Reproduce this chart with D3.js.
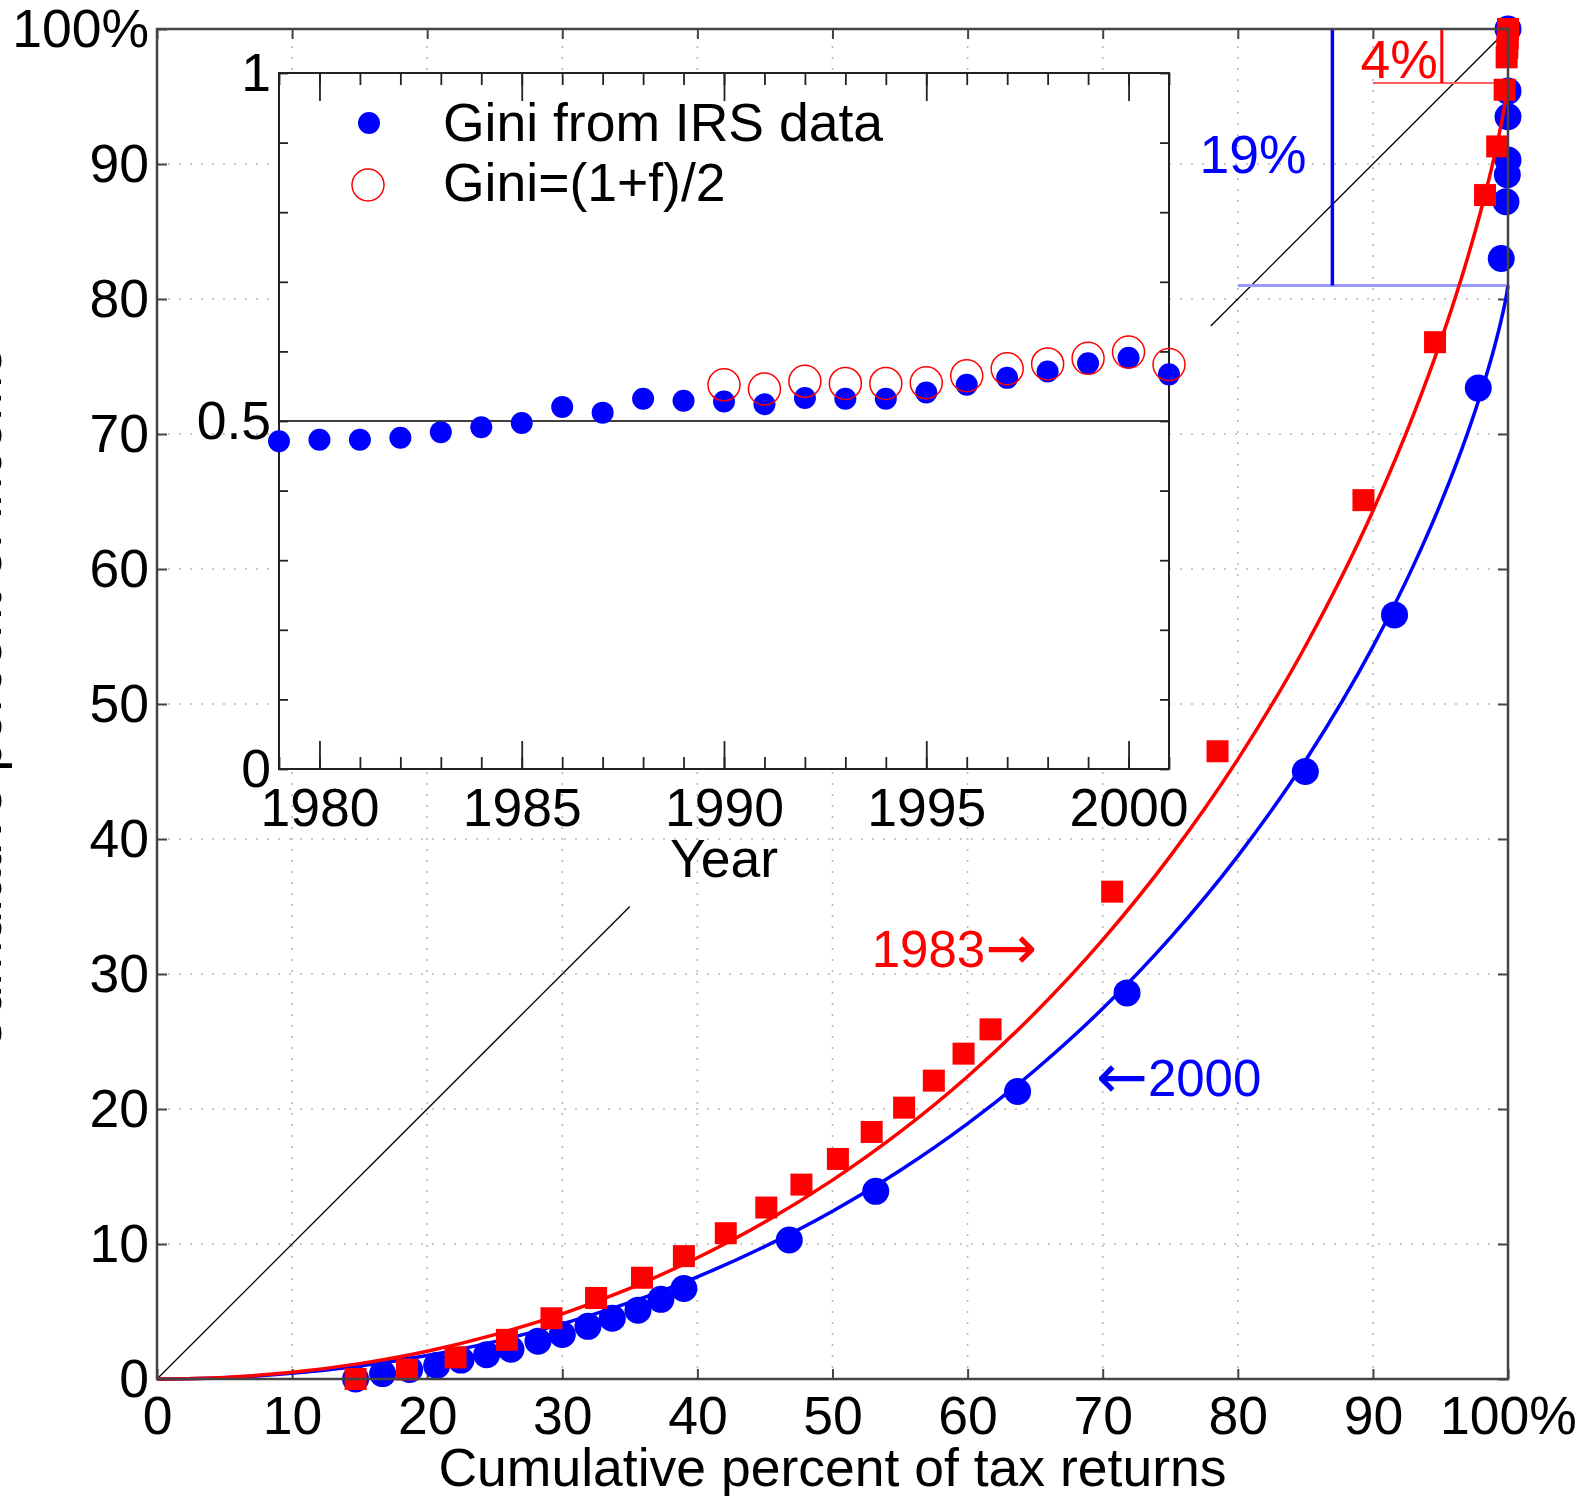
<!DOCTYPE html>
<html>
<head>
<meta charset="utf-8">
<script src="https://cdn.jsdelivr.net/npm/d3@7"></script>
<style>
  body { margin: 0; background: #fff; }
  svg { display: block; font-family: "Liberation Sans", Arial, sans-serif; }
</style>
</head>
<body>
<svg id="chart" width="1577" height="1496"></svg>
<script>
// ---- main plot: Lorenz curves (percent) ----
const xTicks = [0, 10, 20, 30, 40, 50, 60, 70, 80, 90, 100];
const xTickLabels = ["0", "10", "20", "30", "40", "50", "60", "70", "80", "90", "100%"];
const yTicks = [0, 10, 20, 30, 40, 50, 60, 70, 80, 90, 100];
const yTickLabels = ["0", "10", "20", "30", "40", "50", "60", "70", "80", "90", "100%"];

// year 2000 data (blue circles)
const irs2000X = [14.7, 16.7, 18.7, 20.7, 22.5, 24.4, 26.2, 28.2, 30.0, 31.9, 33.7, 35.6, 37.3, 39.0,
                  46.8, 53.2, 63.7, 71.8, 85.0, 91.6, 97.8, 99.5, 99.85, 99.95, 100, 100, 100, 100];
const irs2000Y = [0, 0.4, 0.7, 1.0, 1.4, 1.8, 2.2, 2.8, 3.3, 3.9, 4.5, 5.1, 5.9, 6.7,
                  10.3, 13.9, 21.3, 28.6, 45.0, 56.6, 73.4, 83.0, 87.2, 89.2, 90.3, 93.5, 95.4, 100];

// year 1983 data (red squares)
const irs1983X = [14.7, 18.5, 22.1, 25.9, 29.2, 32.5, 35.9, 39.0, 42.1, 45.1, 47.7, 50.4, 52.9, 55.3,
                  57.5, 59.7, 61.7, 70.7, 78.5, 89.3, 94.6, 98.3, 99.2, 99.75, 99.9, 99.95, 99.98, 100];
const irs1983Y = [0, 0.7, 1.6, 2.9, 4.5, 6.0, 7.5, 9.1, 10.8, 12.7, 14.4, 16.3, 18.3, 20.1,
                  22.1, 24.1, 25.9, 36.1, 46.5, 65.1, 76.8, 87.7, 91.3, 95.5, 97.9, 98.6, 99.3, 100];

// fitted curves
const curveX     = [0, 5, 10, 15, 20, 25, 30, 35, 40, 45, 50, 55, 60, 65, 70, 75, 80, 85, 90, 93, 95, 97, 98, 99, 99.5, 99.9, 100];
const curve1983Y = [0, 0.12, 0.50, 1.14, 2.06, 3.29, 4.83, 6.72, 8.98, 11.63, 14.73, 18.30, 22.41, 27.13, 32.53,
                    38.73, 45.90, 54.28, 64.30, 71.41, 76.82, 83.02, 86.57, 90.62, 92.98, 95.24, 96.0];
const curve2000Y = [0, 0.10, 0.42, 0.96, 1.74, 2.77, 4.08, 5.67, 7.57, 9.82, 12.43, 15.44, 18.91, 22.89, 27.44,
                    32.68, 38.73, 45.80, 54.25, 60.25, 64.82, 70.05, 73.04, 76.46, 78.45, 80.36, 81.0];

// diagonal (equality line), broken around the inset
const diagSegments = [[0, 35], [78, 100]];

// ---- inset: Gini coefficient by year ----
const years = [1979, 1980, 1981, 1982, 1983, 1984, 1985, 1986, 1987, 1988, 1989, 1990,
               1991, 1992, 1993, 1994, 1995, 1996, 1997, 1998, 1999, 2000, 2001];
const giniIRS = [0.471, 0.473, 0.473, 0.476, 0.484, 0.491, 0.497, 0.520, 0.512, 0.532, 0.529, 0.528,
                 0.524, 0.533, 0.532, 0.532, 0.541, 0.552, 0.562, 0.571, 0.583, 0.591, 0.567];
const yearsModel = [1990, 1991, 1992, 1993, 1994, 1995, 1996, 1997, 1998, 1999, 2000, 2001];
const giniModel = [0.552, 0.546, 0.557, 0.554, 0.554, 0.555, 0.565, 0.575, 0.582, 0.590, 0.599, 0.581];
const insetXTicks = [1980, 1985, 1990, 1995, 2000];
const insetYTicks = [0, 0.5, 1];
const insetYTickLabels = ["0", "0.5", "1"];

const FONT = 53.5;
const svg = d3.select("#chart");

const x = d3.scaleLinear().domain([0, 100]).range([157, 1508]);
const y = d3.scaleLinear().domain([0, 100]).range([1379, 29]);

// grid
const grid = svg.append("g");
grid.selectAll(".gx").data(xTicks.slice(1, -1)).enter().append("line")
  .attr("x1", d => x(d)).attr("x2", d => x(d)).attr("y1", y(0)).attr("y2", y(100))
  .attr("stroke", "#b8b8b8").attr("stroke-width", 1.6).attr("stroke-dasharray", "2,9");
grid.selectAll(".gy").data(yTicks.slice(1, -1)).enter().append("line")
  .attr("y1", d => y(d)).attr("y2", d => y(d)).attr("x1", x(0)).attr("x2", x(100))
  .attr("stroke", "#b8b8b8").attr("stroke-width", 1.6).attr("stroke-dasharray", "2,9");

// axes with inward ticks
function styleAxis(g) {
  g.attr("font-size", null).attr("font-family", null);
  g.select(".domain").remove();
  g.selectAll(".tick line").attr("stroke", "#444").attr("stroke-width", 2);
  g.selectAll(".tick text").attr("font-size", FONT).attr("fill", "#000");
}
svg.append("g").attr("transform", `translate(0,${y(0)})`)
  .call(d3.axisBottom(x).tickValues(xTicks).tickSize(-10).tickPadding(17).tickFormat((d, i) => xTickLabels[i]))
  .call(styleAxis);
svg.append("g").attr("transform", `translate(0,${y(100)})`)
  .call(d3.axisTop(x).tickValues(xTicks).tickSize(-10).tickFormat(""))
  .call(styleAxis);
svg.append("g").attr("transform", `translate(${x(0)},0)`)
  .call(d3.axisLeft(y).tickValues(yTicks).tickSize(-10).tickPadding(8).tickFormat((d, i) => yTickLabels[i]))
  .call(styleAxis);
svg.append("g").attr("transform", `translate(${x(100)},0)`)
  .call(d3.axisRight(y).tickValues(yTicks).tickSize(-10).tickFormat(""))
  .call(styleAxis);

// equality diagonal
svg.selectAll(".diag").data(diagSegments).enter().append("line")
  .attr("x1", d => x(d[0])).attr("y1", d => y(d[0]))
  .attr("x2", d => x(d[1])).attr("y2", d => y(d[1]))
  .attr("stroke", "#000").attr("stroke-width", 1.3);

// gap annotations (19% for 2000, 4% for 1983)
svg.append("line").attr("x1", x(80)).attr("x2", x(100)).attr("y1", y(81)).attr("y2", y(81))
  .attr("stroke", "#9a9aff").attr("stroke-width", 3);
svg.append("line").attr("x1", x(87)).attr("x2", x(87)).attr("y1", y(81)).attr("y2", y(100))
  .attr("stroke", "#0000ff").attr("stroke-width", 3.5);
svg.append("line").attr("x1", x(90)).attr("x2", x(100)).attr("y1", y(96)).attr("y2", y(96))
  .attr("stroke", "#ff6060").attr("stroke-width", 2);
svg.append("line").attr("x1", x(95.1)).attr("x2", x(95.1)).attr("y1", y(96)).attr("y2", y(100))
  .attr("stroke", "#ff0000").attr("stroke-width", 3);

const line = d3.line().x(d => x(d[0])).y(d => y(d[1])).curve(d3.curveMonotoneX);

// 2000 (blue)
svg.append("path").datum(curveX.map((v, i) => [v, curve2000Y[i]]))
  .attr("d", line).attr("fill", "none").attr("stroke", "#0000ff").attr("stroke-width", 3.5);
svg.selectAll(".c2000").data(irs2000X.map((v, i) => [v, irs2000Y[i]])).enter().append("circle")
  .attr("cx", d => x(d[0])).attr("cy", d => y(d[1])).attr("r", 13.5).attr("fill", "#0000ff");

// 1983 (red)
svg.append("path").datum(curveX.map((v, i) => [v, curve1983Y[i]]))
  .attr("d", line).attr("fill", "none").attr("stroke", "#ff0000").attr("stroke-width", 3.5);
const sq = 22;
svg.selectAll(".s1983").data(irs1983X.map((v, i) => [v, irs1983Y[i]])).enter().append("rect")
  .attr("x", d => x(d[0]) - sq / 2).attr("y", d => y(d[1]) - sq / 2)
  .attr("width", sq).attr("height", sq).attr("fill", "#ff0000");

// frame
svg.append("rect").attr("x", x(0)).attr("y", y(100))
  .attr("width", x(100) - x(0)).attr("height", y(0) - y(100))
  .attr("fill", "none").attr("stroke", "#444").attr("stroke-width", 2.5);

// labels on the main plot
svg.append("text").attr("x", x(85.1)).attr("y", y(89.3)).attr("text-anchor", "end")
  .attr("font-size", FONT).attr("fill", "#0000ff").text("19%");
svg.append("text").attr("x", x(94.8)).attr("y", y(96.4)).attr("text-anchor", "end")
  .attr("font-size", FONT).attr("fill", "#ff0000").text("4%");

const lab1983 = svg.append("text").attr("x", x(52.9)).attr("y", y(30.5))
  .attr("font-size", 51).attr("fill", "#ff0000");
lab1983.append("tspan").text("1983");
lab1983.append("tspan").attr("font-family", "DejaVu Sans").attr("font-size", 62).attr("dy", 2).text("\u2192");

const lab2000 = svg.append("text").attr("x", x(69.5)).attr("y", y(21.0))
  .attr("font-size", 51).attr("fill", "#0000ff");
lab2000.append("tspan").attr("font-family", "DejaVu Sans").attr("font-size", 62).attr("dy", 2).text("\u2190");
lab2000.append("tspan").attr("dy", -2).text("2000");

svg.append("text").attr("x", (x(0) + x(100)) / 2).attr("y", 1486).attr("text-anchor", "middle")
  .attr("font-size", FONT).text("Cumulative percent of tax returns");
svg.append("text").attr("transform", "translate(1,700) rotate(-90)").attr("text-anchor", "middle")
  .attr("font-size", FONT).text("Cumulative percent of income");

// ---- inset ----
const ix = d3.scaleLinear().domain([1979, 2001]).range([279, 1169]);
const iy = d3.scaleLinear().domain([0, 1]).range([769, 73]);
const inset = svg.append("g");

inset.append("rect").attr("x", ix(1979)).attr("y", iy(1))
  .attr("width", ix(2001) - ix(1979)).attr("height", iy(0) - iy(1)).attr("fill", "#fff");
inset.append("line").attr("x1", ix(1979)).attr("x2", ix(2001)).attr("y1", iy(0.5)).attr("y2", iy(0.5))
  .attr("stroke", "#000").attr("stroke-width", 1.5);

function styleInset(g) {
  g.attr("font-size", null).attr("font-family", null);
  g.select(".domain").remove();
  g.selectAll(".tick line").attr("stroke", "#222").attr("stroke-width", 1.8);
  g.selectAll(".tick text").attr("font-size", FONT).attr("fill", "#000");
}
inset.append("g").attr("transform", `translate(0,${iy(0)})`)
  .call(d3.axisBottom(ix).ticks(22).tickSize(-12).tickFormat("")).call(styleInset);
inset.append("g").attr("transform", `translate(0,${iy(0)})`)
  .call(d3.axisBottom(ix).tickValues(insetXTicks).tickSize(-28).tickPadding(19).tickFormat(d3.format("d")))
  .call(styleInset)
  .selectAll(".tick text").attr("y", 19);
inset.append("g").attr("transform", `translate(0,${iy(1)})`)
  .call(d3.axisTop(ix).ticks(22).tickSize(-12).tickFormat("")).call(styleInset);
inset.append("g").attr("transform", `translate(0,${iy(1)})`)
  .call(d3.axisTop(ix).tickValues(insetXTicks).tickSize(-28).tickFormat("")).call(styleInset);
inset.append("g").attr("transform", `translate(${ix(1979)},0)`)
  .call(d3.axisLeft(iy).ticks(10).tickSize(-9).tickPadding(8)
    .tickFormat(d => { const k = insetYTicks.indexOf(d); return k >= 0 ? insetYTickLabels[k] : ""; }))
  .call(styleInset);
inset.append("g").attr("transform", `translate(${ix(2001)},0)`)
  .call(d3.axisRight(iy).ticks(10).tickSize(-9).tickFormat("")).call(styleInset);

inset.append("rect").attr("x", ix(1979)).attr("y", iy(1))
  .attr("width", ix(2001) - ix(1979)).attr("height", iy(0) - iy(1))
  .attr("fill", "none").attr("stroke", "#222").attr("stroke-width", 2);

inset.selectAll(".girs").data(years.map((v, i) => [v, giniIRS[i]])).enter().append("circle")
  .attr("cx", d => ix(d[0])).attr("cy", d => iy(d[1])).attr("r", 11).attr("fill", "#0000ff");
inset.selectAll(".gmod").data(yearsModel.map((v, i) => [v, giniModel[i]])).enter().append("circle")
  .attr("cx", d => ix(d[0])).attr("cy", d => iy(d[1])).attr("r", 16)
  .attr("fill", "none").attr("stroke", "#ff0000").attr("stroke-width", 1.5);

svg.append("text").attr("x", (ix(1979) + ix(2001)) / 2).attr("y", 877).attr("text-anchor", "middle")
  .attr("font-size", FONT).text("Year");

// legend
const legend = inset.append("g");
legend.append("circle").attr("cx", 369).attr("cy", 123).attr("r", 11).attr("fill", "#0000ff");
legend.append("circle").attr("cx", 368).attr("cy", 185).attr("r", 16)
  .attr("fill", "none").attr("stroke", "#ff0000").attr("stroke-width", 1.5);
legend.append("text").attr("x", 443).attr("y", 141).attr("font-size", FONT).text("Gini from IRS data");
legend.append("text").attr("x", 443).attr("y", 201).attr("font-size", FONT).text("Gini=(1+f)/2");
</script>
</body>
</html>
